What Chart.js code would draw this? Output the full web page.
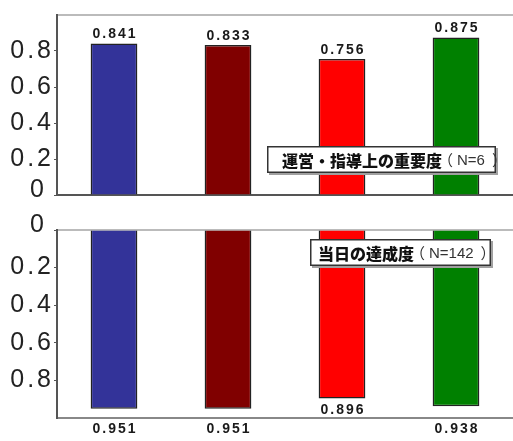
<!DOCTYPE html>
<html>
<head>
<meta charset="utf-8">
<script src="https://cdn.jsdelivr.net/npm/chart.js@4/dist/chart.umd.min.js"></script>
<style>
  html, body { margin: 0; padding: 0; background: #fff; }
  #wrap { position: relative; width: 513px; height: 441px; overflow: hidden; background: #fff; }
  canvas { position: absolute; left: 0; }
  #topChart { top: 0; }
  #bottomChart { top: 210px; }
</style>
</head>
<body>
<div id="wrap">
  <canvas id="topChart" width="513" height="210"></canvas>
  <canvas id="bottomChart" width="513" height="231"></canvas>
</div>
<script>
// Four items, two measures
const items = ['項目1', '項目2', '項目3', '項目4'];
const importance = [0.841, 0.833, 0.756, 0.875];   // 運営・指導上の重要度
const achievement = [0.951, 0.951, 0.896, 0.938];  // 当日の達成度
const barColors = ['#333399', '#800000', '#ff0000', '#008000'];
const yTicks = [0, 0.2, 0.4, 0.6, 0.8];

const importanceTitle = '運営・指導上の重要度';
const importanceN = 'N=6';
const achievementTitle = '当日の達成度';
const achievementN = 'N=142';

const tickFont = { family: '"Liberation Sans", Arial, sans-serif', size: 25 };

// Spaced-out axis numbers; the zero label sits a little up and left of its tick
const axisText = {
  id: 'axisText',
  beforeDraw(chart) {
    chart.ctx.letterSpacing = '3px';
    const scale = chart.scales.y;
    const labelItems = scale.getLabelItems(chart.chartArea);
    labelItems.forEach(it => {
      if (it.label === '0' && !it._moved && it.options && it.options.translation) {
        it.options.translation[0] -= 7;
        it.options.translation[1] -= 5;
        it._moved = true;
      }
    });
  },
  beforeDatasetsDraw(chart) {
    chart.ctx.letterSpacing = '0px';
  }
};

// Value printed at the end of each bar
const valueLabels = {
  id: 'valueLabels',
  afterDatasetsDraw(chart, args, opts) {
    const { ctx, chartArea } = chart;
    const meta = chart.getDatasetMeta(0);
    const values = chart.data.datasets[0].data;
    ctx.save();
    ctx.letterSpacing = '2px';
    ctx.font = 'bold 14px "Liberation Sans", Arial, sans-serif';
    ctx.fillStyle = '#1a1a1a';
    ctx.textAlign = 'center';
    ctx.textBaseline = 'middle';
    meta.data.forEach((bar, i) => {
      let y;
      if (opts.below) {
        y = bar.y + 12;
        if (y + 5 > chartArea.bottom) y = chartArea.bottom + 11.5;
      } else {
        y = bar.y - 9;
      }
      ctx.fillText(values[i].toFixed(3), bar.x + 1, y);
    });
    ctx.restore();
  }
};

// Boxed caption naming the measure and its sample size
const panelTitle = {
  id: 'panelTitle',
  afterDraw(chart, args, o) {
    const { ctx } = chart;
    const cy = chart.scales.y.getPixelForValue(o.value);
    const h = 27;
    const top = Math.round(cy - h / 2);
    const w = o.right - o.left;
    const ty = top + h / 2 + 1;
    ctx.save();
    ctx.letterSpacing = '0px';
    ctx.fillStyle = '#a0a0a0';
    ctx.fillRect(o.left + 2, top + 2, w, h);
    ctx.fillStyle = '#fff';
    ctx.fillRect(o.left, top, w, h);
    ctx.strokeStyle = '#333';
    ctx.lineWidth = 1.5;
    ctx.strokeRect(o.left + 0.75, top + 0.75, w - 1.5, h - 1.5);
    ctx.textBaseline = 'middle';
    ctx.textAlign = 'left';
    ctx.font = '900 16px "Noto Sans CJK JP", sans-serif';
    ctx.fillStyle = '#111';
    let x = o.left + o.pad;
    ctx.fillText(o.title, x, ty);
    x += ctx.measureText(o.title).width;
    ctx.fillStyle = '#333';
    ctx.font = '15px "Noto Sans CJK JP", sans-serif';
    ctx.fillText('（', x - 4, ty);
    x += 15;
    ctx.font = '15px "Liberation Sans", Arial, sans-serif';
    ctx.fillText(o.n, x, ty);
    x += ctx.measureText(o.n).width;
    ctx.font = '15px "Noto Sans CJK JP", sans-serif';
    ctx.fillText('）', x + 7, ty);
    ctx.restore();
  }
};

function yScale(reverse) {
  return {
    type: 'linear',
    reverse: reverse,
    min: 0,
    max: 1,
    afterFit(scale) { scale.width = 57; },
    ticks: {
      stepSize: 0.2,
      padding: 0,
      color: '#222',
      font: tickFont,
      callback(v) {
        const r = Math.round(v * 10) / 10;
        if (!yTicks.includes(r)) return null;
        return r === 0 ? '0' : r.toFixed(1);
      }
    },
    grid: { display: true, drawOnChartArea: false, drawTicks: true, tickLength: 3, color: '#555' },
    border: { display: true, color: '#555', width: 2 }
  };
}

function xScale(position, borderColor) {
  return {
    type: 'category',
    position: position,
    ticks: { display: false },
    grid: { display: false, drawTicks: false },
    border: { display: true, color: borderColor, width: 2 }
  };
}

function makeChart(canvasId, values, reverse, padding, title, n, titleBox) {
  return new Chart(document.getElementById(canvasId), {
    type: 'bar',
    data: {
      labels: items,
      datasets: [{
        data: values,
        backgroundColor: barColors,
        borderColor: '#222',
        borderWidth: 1.5,
        barPercentage: 0.41,
        categoryPercentage: 1.0
      }]
    },
    options: {
      responsive: false,
      animation: false,
      layout: { padding: padding },
      scales: {
        x: xScale('bottom', reverse ? '#888' : '#555'),
        xEdge: xScale('top', '#bbb'),
        y: yScale(reverse)
      },
      plugins: {
        legend: { display: false },
        tooltip: { enabled: false },
        valueLabels: { below: reverse },
        panelTitle: Object.assign({ title: title, n: n }, titleBox)
      }
    },
    plugins: [axisText, valueLabels, panelTitle]
  });
}

makeChart('topChart', importance, false,
  { top: 10, bottom: 15, left: 0, right: 0 },
  importanceTitle, importanceN,
  { value: 0.2, left: 267, right: 496, pad: 15 });

makeChart('bottomChart', achievement, true,
  { top: 20, bottom: 23, left: 0, right: 0 },
  achievementTitle, achievementN,
  { value: 0.12, left: 310, right: 491, pad: 8 });
</script>
</body>
</html>
